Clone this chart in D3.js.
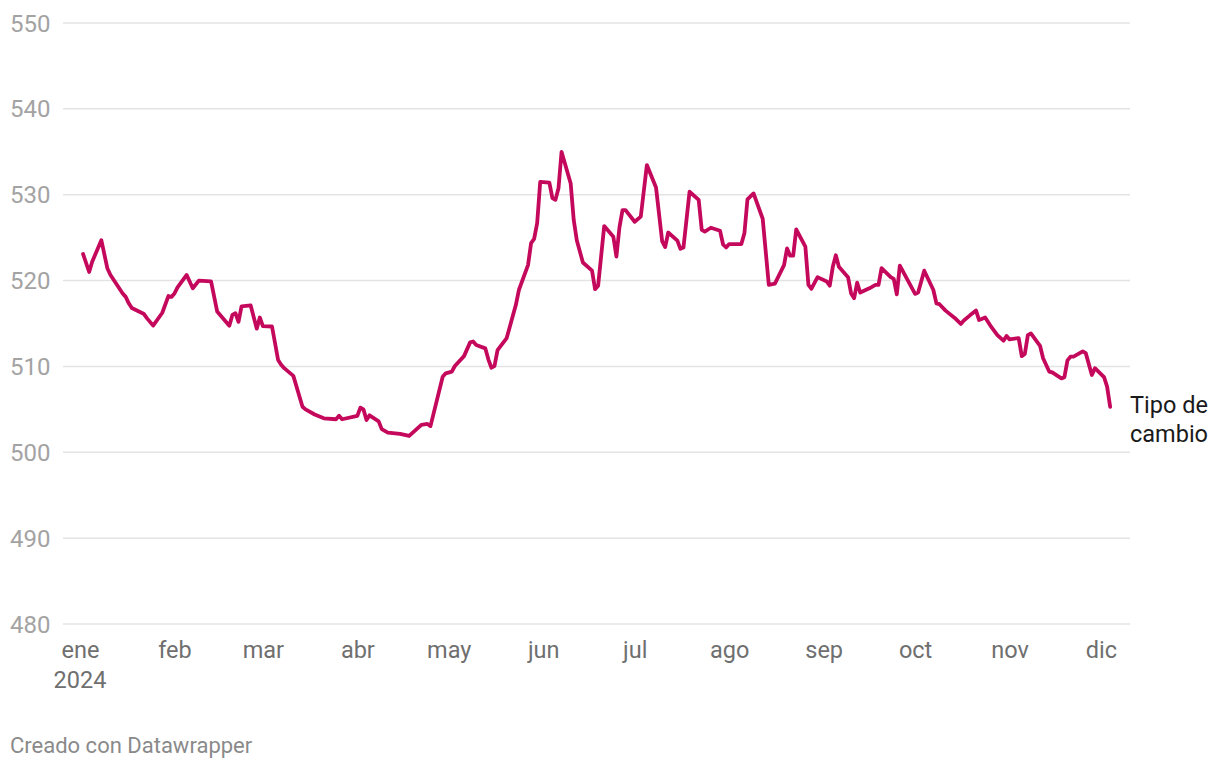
<!DOCTYPE html>
<html><head><meta charset="utf-8">
<script src="https://cdn.jsdelivr.net/npm/d3@7"></script>
<style>
body{margin:0;background:#fff;font-family:Roboto,"Noto Sans",sans-serif;}
</style></head><body>
<svg id="chart" width="1220" height="770"></svg>
<script>
const dates = ["2024-01-02","2024-01-04","2024-01-05","2024-01-08","2024-01-10","2024-01-11","2024-01-15","2024-01-16","2024-01-17","2024-01-18","2024-01-22","2024-01-23","2024-01-25","2024-01-28","2024-01-30","2024-01-31","2024-02-01","2024-02-02","2024-02-05","2024-02-07","2024-02-09","2024-02-13","2024-02-15","2024-02-19","2024-02-20","2024-02-21","2024-02-22","2024-02-23","2024-02-26","2024-02-28","2024-02-29","2024-03-01","2024-03-04","2024-03-06","2024-03-07","2024-03-08","2024-03-11","2024-03-14","2024-03-15","2024-03-18","2024-03-21","2024-03-25","2024-03-26","2024-03-27","2024-04-01","2024-04-02","2024-04-03","2024-04-04","2024-04-05","2024-04-08","2024-04-09","2024-04-11","2024-04-15","2024-04-18","2024-04-22","2024-04-24","2024-04-25","2024-04-29","2024-04-30","2024-05-02","2024-05-03","2024-05-06","2024-05-08","2024-05-09","2024-05-10","2024-05-13","2024-05-14","2024-05-15","2024-05-16","2024-05-17","2024-05-20","2024-05-21","2024-05-23","2024-05-24","2024-05-27","2024-05-28","2024-05-29","2024-05-30","2024-05-31","2024-06-03","2024-06-04","2024-06-05","2024-06-06","2024-06-07","2024-06-10","2024-06-11","2024-06-12","2024-06-14","2024-06-17","2024-06-18","2024-06-19","2024-06-21","2024-06-24","2024-06-25","2024-06-26","2024-06-27","2024-06-28","2024-07-01","2024-07-03","2024-07-05","2024-07-08","2024-07-10","2024-07-11","2024-07-12","2024-07-15","2024-07-16","2024-07-17","2024-07-19","2024-07-22","2024-07-23","2024-07-24","2024-07-26","2024-07-29","2024-07-30","2024-07-31","2024-08-01","2024-08-05","2024-08-06","2024-08-07","2024-08-09","2024-08-12","2024-08-14","2024-08-16","2024-08-19","2024-08-20","2024-08-21","2024-08-22","2024-08-23","2024-08-26","2024-08-27","2024-08-28","2024-08-30","2024-09-02","2024-09-03","2024-09-04","2024-09-05","2024-09-06","2024-09-09","2024-09-10","2024-09-11","2024-09-12","2024-09-13","2024-09-16","2024-09-18","2024-09-19","2024-09-20","2024-09-23","2024-09-24","2024-09-25","2024-09-26","2024-10-01","2024-10-02","2024-10-04","2024-10-07","2024-10-08","2024-10-09","2024-10-11","2024-10-14","2024-10-16","2024-10-17","2024-10-19","2024-10-21","2024-10-22","2024-10-24","2024-10-26","2024-10-28","2024-10-30","2024-10-31","2024-11-01","2024-11-04","2024-11-05","2024-11-06","2024-11-07","2024-11-08","2024-11-11","2024-11-12","2024-11-14","2024-11-15","2024-11-18","2024-11-19","2024-11-20","2024-11-21","2024-11-22","2024-11-25","2024-11-26","2024-11-28","2024-11-29","2024-12-02","2024-12-03","2024-12-04"];
const values = [523.1,521.0,522.2,524.7,521.4,520.65,518.5,518.1,517.35,516.8,516.1,515.6,514.75,516.25,518.2,518.1,518.5,519.2,520.65,519.1,520.0,519.9,516.4,514.75,516.0,516.2,515.2,517.0,517.1,514.4,515.7,514.7,514.65,510.75,510.2,509.8,508.9,505.3,505.0,504.4,503.95,503.85,504.25,503.85,504.25,505.2,505.0,503.75,504.3,503.6,502.7,502.3,502.15,501.9,503.2,503.3,503.05,508.8,509.2,509.4,510.05,511.2,512.8,512.9,512.5,512.1,510.8,509.85,510.05,511.9,513.3,514.6,517.15,518.9,521.8,524.35,524.85,526.7,531.5,531.4,529.6,529.4,530.75,535.0,531.3,527.05,524.7,522.1,521.15,519.0,519.4,526.35,525.1,522.8,526.2,528.2,528.2,526.85,527.45,533.45,530.85,524.6,523.9,525.6,524.65,523.7,523.85,530.35,529.4,525.9,525.7,526.15,525.8,524.2,523.85,524.25,524.25,525.5,529.45,530.15,527.2,519.5,519.65,521.8,523.75,522.9,522.9,525.95,523.95,519.5,519.05,520.4,519.9,519.4,521.6,522.95,521.6,520.4,518.5,517.95,519.75,518.6,519.1,519.5,519.5,521.45,520.4,520.2,518.4,521.75,518.45,518.6,521.15,518.9,517.35,517.25,516.5,515.65,514.95,515.35,515.95,516.5,515.4,515.7,514.6,513.65,513.0,513.55,513.15,513.3,511.2,511.45,513.65,513.85,512.4,510.95,509.4,509.3,508.6,508.75,510.7,511.15,511.15,511.75,511.55,509.0,509.8,508.75,507.65,505.3];
const yTicks = [480,490,500,510,520,530,540,550];
const monthLabels = ["ene","feb","mar","abr","may","jun","jul","ago","sep","oct","nov","dic"];
const yearLabel = "2024";
const seriesLabel = ["Tipo de","cambio"];
const credit = "Creado con Datawrapper";

const parse = d3.utcParse("%Y-%m-%d");
const data = dates.map((d,i)=>({date:parse(d), value:values[i]}));
const svg = d3.select("#chart");

const x = d3.scaleUtc().domain([new Date(Date.UTC(2024,0,1)), new Date(Date.UTC(2024,11,1))]).range([80,1101]);
const y = d3.scaleLinear().domain([480,550]).range([624,23]);

// gridlines
svg.append("g").selectAll("line").data(yTicks).join("line")
  .attr("x1",63).attr("x2",1130)
  .attr("y1",d=>y(d)).attr("y2",d=>y(d))
  .attr("stroke","#e3e3e3").attr("stroke-width",1.5);

// y labels
svg.append("g").selectAll("text").data(yTicks).join("text")
  .attr("x",10).attr("y",d=>y(d)).attr("dy","0.36em")
  .attr("fill","#a3a3a3").style("font-size","24px").text(d=>d);

// x axis labels
const monthDates = monthLabels.map((m,i)=>new Date(Date.UTC(2024,i,1)));
const xAxis = d3.axisBottom(x).tickValues(monthDates).tickSize(0).tickFormat((d,i)=>monthLabels[i]);
const gx = svg.append("g").attr("transform","translate(0,658)").call(xAxis);
gx.select(".domain").remove();
gx.selectAll("text").attr("fill","#6f6f6f").style("font-size","23.5px").style("font-family","Roboto,sans-serif").attr("y",0).attr("dy",0);
svg.append("text").attr("x",x(monthDates[0])).attr("y",688).attr("text-anchor","middle")
  .attr("fill","#6f6f6f").style("font-size","23.5px").text(yearLabel);

// line
const line = d3.line().x(d=>x(d.date)).y(d=>y(d.value));
svg.append("path").datum(data).attr("d",line)
  .attr("fill","none").attr("stroke","#c4095c").attr("stroke-width",3.8)
  .attr("stroke-linejoin","round").attr("stroke-linecap","round");

// series label
svg.append("g").selectAll("text").data(seriesLabel).join("text")
  .attr("x",1130).attr("y",(d,i)=>413+i*29)
  .attr("fill","#1a1a1a").style("font-size","23.5px").text(d=>d);

svg.append("text").attr("x",10).attr("y",753).attr("fill","#8a8a8a").style("font-size","22px").text(credit);
</script>
</body></html>
